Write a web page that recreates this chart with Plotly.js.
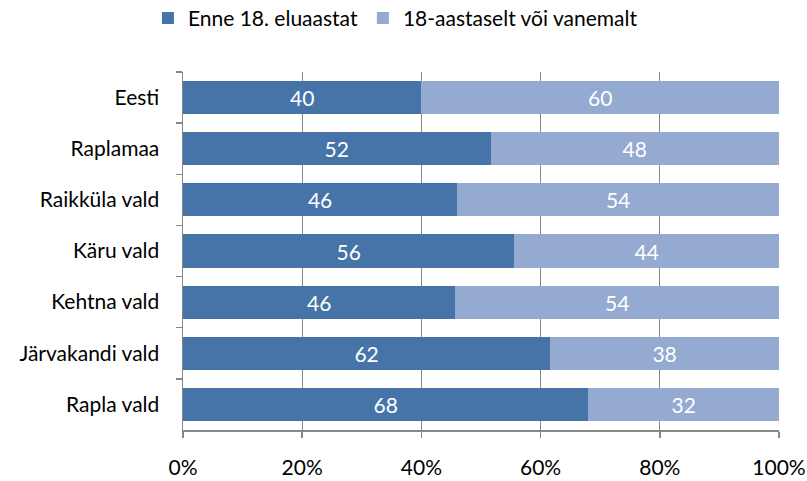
<!DOCTYPE html>
<html>
<head>
<meta charset="utf-8">
<script src="https://cdn.plot.ly/plotly-3.0.1.min.js"></script>
<style>html,body{margin:0;padding:0;background:#fff;}#chart{width:807px;height:481px;}</style>
</head>
<body>
<div id="chart"></div>
<script>
const categories = ["Eesti", "Raplamaa", "Raikküla vald", "Käru vald", "Kehtna vald", "Järvakandi vald", "Rapla vald"];
const before18 = [40, 51.6, 46.0, 55.6, 45.7, 61.6, 68.0];
const after18 = [60, 48.4, 54.0, 44.4, 54.3, 38.4, 32.0];
const seriesNames = ["Enne 18. eluaastat", "18-aastaselt või vanemalt"];
const xTicks = [0, 20, 40, 60, 80, 100];

const fontFam = "Lato, 'Open Sans', sans-serif";
const common = {
  type: "bar", orientation: "h", y: categories,
  texttemplate: "%{x:.0f}", textposition: "inside", insidetextanchor: "middle",
  textfont: {family: fontFam, size: 21, color: "#ffffff"},
  hoverinfo: "skip"
};
const data = [
  Object.assign({}, common, {name: seriesNames[0], x: before18, marker: {color: "#4674A9"}}),
  Object.assign({}, common, {name: seriesNames[1], x: after18, marker: {color: "#94AAD1"}})
];
const layout = {
  width: 807, height: 481,
  margin: {l: 183, r: 28, t: 72, b: 51},
  paper_bgcolor: "#ffffff", plot_bgcolor: "#ffffff",
  barmode: "stack", bargap: 0.35,
  font: {family: fontFam, size: 21, color: "#000000"},
  showlegend: true,
  legend: {
    orientation: "h", xref: "container", yref: "container",
    x: 0.49, xanchor: "center", y: 0.962, yanchor: "middle",
    font: {family: fontFam, size: 21, color: "#000000"},
    traceorder: "normal", itemwidth: 30
  },
  xaxis: {
    range: [0, 100], tickvals: xTicks, ticktext: xTicks.map(v => v + "%"),
    showgrid: true, gridcolor: "#888888", gridwidth: 1,
    ticks: "outside", ticklen: 6, tickcolor: "#888888", tickwidth: 1.5,
    showline: true, linecolor: "#888888", linewidth: 1.5,
    zeroline: false, fixedrange: true, ticklabelstandoff: 12,
    tickfont: {family: fontFam, size: 21, color: "#000000"}
  },
  yaxis: {
    type: "category", autorange: "reversed",
    tickson: "boundaries", ticks: "outside", ticklen: 6, tickcolor: "#888888", tickwidth: 1.5,
    showgrid: false, showline: true, linecolor: "#888888", linewidth: 1.5,
    zeroline: false, fixedrange: true, ticklabelstandoff: 18,
    tickfont: {family: fontFam, size: 21, color: "#000000"}
  }
};
Plotly.newPlot("chart", data, layout, {displayModeBar: false, staticPlot: true});
</script>
</body>
</html>
